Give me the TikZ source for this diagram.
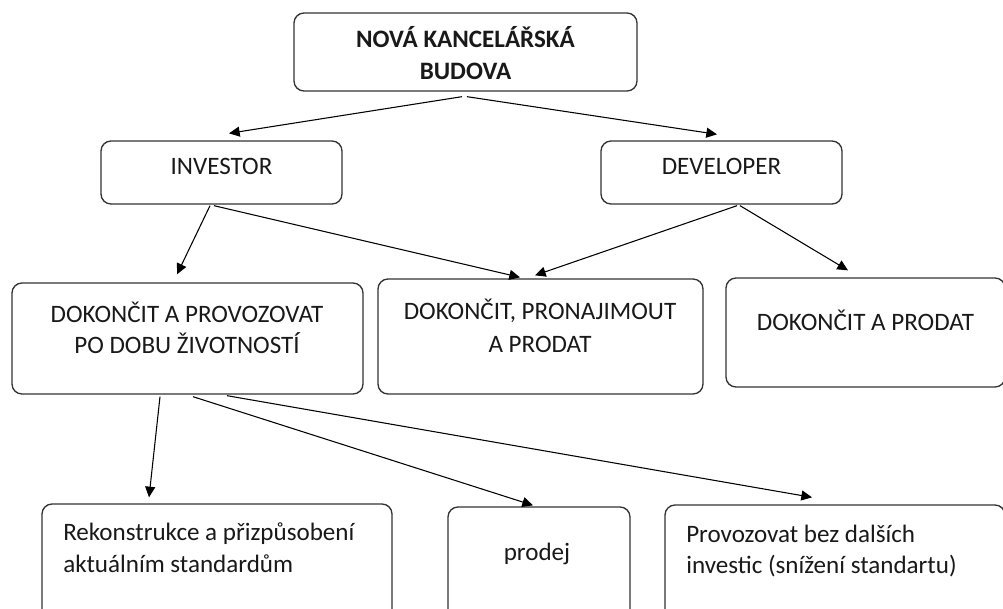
\documentclass[tikz,border=0pt]{standalone}
\usepackage{fontspec}
\setmainfont{Carlito}
\usetikzlibrary{arrows.meta}
\begin{document}
\begin{tikzpicture}[x=0.75pt,y=-0.75pt,
  box/.style={draw=black!80,line width=1pt,rounded corners=7.5pt,inner sep=0pt},
  txt/.style={inner sep=0pt,font=\fontsize{18.8}{23.25}\selectfont,text=black!90},
  arr/.style={draw=black,line width=0.8pt,-{Triangle[length=8pt,width=7.5pt]}}]
\useasboundingbox (0,0) rectangle (1003,608);
\clip (0,0) rectangle (1003,608);
% boxes
\node[box,minimum width=257.25pt,minimum height=58.5pt] (top) at (465.5,52) {};
\node[box,minimum width=180.75pt,minimum height=47.25pt] (inv) at (221.5,172.5) {};
\node[box,minimum width=180.75pt,minimum height=47.25pt] (dev) at (721.5,172.5) {};
\node[box,minimum width=263.25pt,minimum height=83.25pt] (op) at (187.5,338.5) {};
\node[box,minimum width=243.75pt,minimum height=86.25pt] (rent) at (540.5,336.5) {};
\node[box,minimum width=209.25pt,minimum height=81.75pt] (sell) at (865.5,332.5) {};
\node[box,minimum width=262.5pt,minimum height=87pt] (rek) at (217,562) {};
\node[box,minimum width=136.5pt,minimum height=84.75pt] (prodej) at (539,563.5) {};
\node[box,minimum width=255pt,minimum height=86.25pt] (prov) at (835,562.5) {};
% texts
\node[txt,anchor=base] (ttop) at (465.5,47.5) {\bfseries\begin{tabular}[t]{@{}c@{}}NOVÁ KANCELÁŘSKÁ\\[0.75pt] BUDOVA\end{tabular}};
\node[txt,anchor=base] (tinv) at (221.5,174.5) {INVESTOR};
\node[txt,anchor=base] (tdev) at (721.5,174.5) {DEVELOPER};
\node[txt,anchor=base] (top1) at (187,322) {\begin{tabular}[t]{@{}c@{}}DOKONČIT A PROVOZOVAT\\ PO DOBU ŽIVOTNOSTÍ\end{tabular}};
\node[txt,anchor=base] (trent) at (540,319) {\begin{tabular}[t]{@{}c@{}}DOKONČIT, PRONAJIMOUT\\[1.5pt] A PRODAT\end{tabular}};
\node[txt,anchor=base] (tsell) at (865.5,330) {DOKONČIT A PRODAT};
\node[txt,anchor=base west] (trek) at (63,540.5) {\begin{tabular}[t]{@{}l@{}}Rekonstrukce a přizpůsobení\\[0.5pt] aktuálním standardům\end{tabular}};
\node[txt,anchor=base] (tprodej) at (537,560) {prodej};
\node[txt,anchor=base west] (tprov) at (686,542) {\begin{tabular}[t]{@{}l@{}}Provozovat bez dalších\\ investic (snížení standartu)\end{tabular}};
% arrows
\draw[arr] ([shift={(-3.5,5)}]top.south) -- ([shift={(7.5,-7)}]inv.north);
\draw[arr] ([shift={(1.5,5)}]top.south) -- ([shift={(-4.5,-6)}]dev.north);
\draw[arr] ([shift={(-11.5,1)}]inv.south) -- ([shift={(-10.5,-8)}]op.north);
\draw[arr] ([shift={(-7.5,1)}]inv.south) -- ([shift={(-20.5,-1)}]rent.north);
\draw[arr] ([shift={(15.5,1)}]dev.south) -- ([shift={(-5.5,-3)}]rent.north);
\draw[arr] ([shift={(18.5,1)}]dev.south) -- ([shift={(-17.5,-7)}]sell.north);
\draw[arr] ([shift={(-27.5,2)}]op.south) -- ([shift={(-68,-6)}]rek.north);
\draw[arr] ([shift={(5.5,2)}]op.south) -- ([shift={(-6,-1)}]prodej.north);
\draw[arr] ([shift={(39.5,1)}]op.south) -- ([shift={(-23,-7)}]prov.north);
\end{tikzpicture}
\end{document}
